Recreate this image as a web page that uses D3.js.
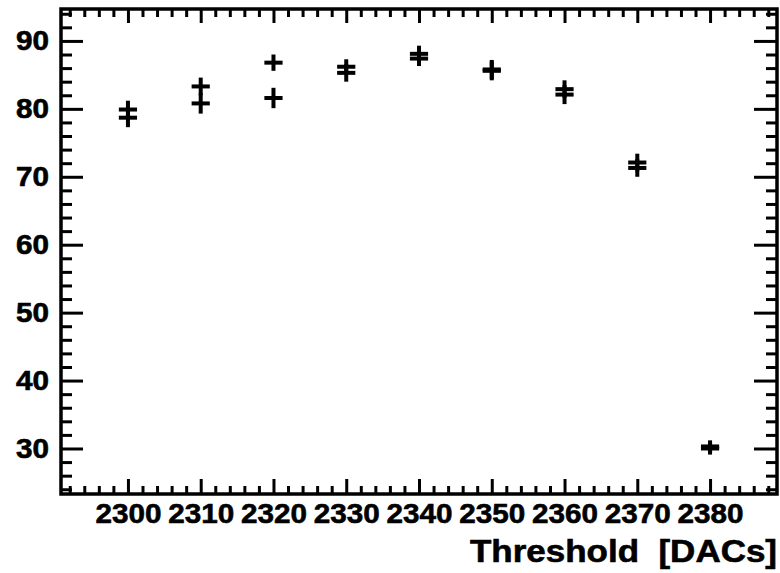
<!DOCTYPE html>
<html>
<head>
<meta charset="utf-8">
<script src="https://cdn.jsdelivr.net/npm/d3@7"></script>
<style>
  body { margin: 0; background: #fff; }
  svg { display: block; }
  text { font-family: "Liberation Sans", Arial, Helvetica, sans-serif; font-weight: bold; fill: #000; stroke: #000; stroke-width: 0.6px; }
</style>
</head>
<body>
<svg width="780" height="573"></svg>
<script>
const thresholds = [2300, 2310, 2320, 2330, 2340, 2350, 2360, 2370, 2380];
const seriesA = [79.9, 83.3, 86.8, 86.2, 88.1, 85.8, 82.9, 72.1, 30.3];
const seriesB = [78.7, 80.8, 81.6, 85.3, 87.4, 85.6, 82.1, 71.3, 30.0];
const errorsA = [1.3, 1.3, 1.2, 1.1, 1.2, 1.4, 1.3, 1.3, 0.9];
const errorsB = [1.4, 1.5, 1.5, 1.3, 1.1, 1.4, 1.4, 1.3, 0.9];
const xErr = 1.25;

const xTicks = [2300, 2310, 2320, 2330, 2340, 2350, 2360, 2370, 2380];
const yTicks = [30, 40, 50, 60, 70, 80, 90];
const xTitle = 'Threshold  [DACs]';

const frame = { left: 61, right: 777, top: 9, bottom: 494 };

const x = d3.scaleLinear().domain([2290.8, 2389.2]).range([frame.left, frame.right]);
const y = d3.scaleLinear().domain([23.3, 94.7]).range([frame.bottom, frame.top]);

const svg = d3.select('svg');

const xMinor = d3.range(2292, 2389, 2).filter(v => v % 10 !== 0);
const yMinor = d3.range(24, 95, 2).filter(v => v % 10 !== 0);

const styleAxis = g => {
  g.select('.domain').remove();
  g.selectAll('line').attr('stroke', '#000').attr('stroke-width', 3);
};

// bottom axis, ticks point inside
svg.append('g')
  .attr('transform', `translate(0,${frame.bottom})`)
  .call(d3.axisBottom(x).tickValues(xTicks).tickSize(-15).tickFormat(d3.format('d')))
  .call(styleAxis)
  .call(g => g.selectAll('text')
    .attr('y', 29).attr('dy', 0)
    .attr('textLength', 66)
    .attr('lengthAdjust', 'spacingAndGlyphs')
    .style('font-size', '28px'));
svg.append('g')
  .attr('transform', `translate(0,${frame.bottom})`)
  .call(d3.axisBottom(x).tickValues(xMinor).tickSize(-8).tickFormat(''))
  .call(styleAxis);

// top axis
svg.append('g')
  .attr('transform', `translate(0,${frame.top})`)
  .call(d3.axisTop(x).tickValues(xTicks).tickSize(-14).tickFormat(''))
  .call(styleAxis);
svg.append('g')
  .attr('transform', `translate(0,${frame.top})`)
  .call(d3.axisTop(x).tickValues(xMinor).tickSize(-8).tickFormat(''))
  .call(styleAxis);

// left axis
svg.append('g')
  .attr('transform', `translate(${frame.left},0)`)
  .call(d3.axisLeft(y).tickValues(yTicks).tickSize(-22).tickFormat(d3.format('d')))
  .call(styleAxis)
  .call(g => g.selectAll('text')
    .attr('x', -12)
    .attr('textLength', 33)
    .attr('lengthAdjust', 'spacingAndGlyphs')
    .style('font-size', '27px'));
svg.append('g')
  .attr('transform', `translate(${frame.left},0)`)
  .call(d3.axisLeft(y).tickValues(yMinor).tickSize(-11).tickFormat(''))
  .call(styleAxis);

// right axis
svg.append('g')
  .attr('transform', `translate(${frame.right},0)`)
  .call(d3.axisRight(y).tickValues(yTicks).tickSize(-23).tickFormat(''))
  .call(styleAxis);
svg.append('g')
  .attr('transform', `translate(${frame.right},0)`)
  .call(d3.axisRight(y).tickValues(yMinor).tickSize(-11).tickFormat(''))
  .call(styleAxis);

svg.append('rect')
  .attr('x', frame.left).attr('y', frame.top)
  .attr('width', frame.right - frame.left)
  .attr('height', frame.bottom - frame.top)
  .attr('fill', 'none')
  .attr('stroke', '#000')
  .attr('stroke-width', 3.5);

svg.append('text')
  .attr('x', frame.right).attr('y', 562)
  .attr('text-anchor', 'end')
  .attr('xml:space', 'preserve')
  .style('white-space', 'pre')
  .style('font-size', '31px')
  .attr('textLength', 307)
  .attr('lengthAdjust', 'spacingAndGlyphs')
  .text(xTitle);

// points with error bars
const points = [];
thresholds.forEach((t, i) => {
  points.push({ x: t, y: seriesA[i], e: errorsA[i] });
  points.push({ x: t, y: seriesB[i], e: errorsB[i] });
});

const marks = svg.append('g')
  .attr('stroke', '#000')
  .attr('stroke-width', 4);

marks.selectAll('line.ey')
  .data(points)
  .enter().append('line')
  .attr('class', 'ey')
  .attr('x1', d => x(d.x)).attr('x2', d => x(d.x))
  .attr('y1', d => y(d.y + d.e)).attr('y2', d => y(d.y - d.e));

marks.selectAll('line.ex')
  .data(points)
  .enter().append('line')
  .attr('class', 'ex')
  .attr('x1', d => x(d.x - xErr)).attr('x2', d => x(d.x + xErr))
  .attr('y1', d => y(d.y)).attr('y2', d => y(d.y));
</script>
</body>
</html>
